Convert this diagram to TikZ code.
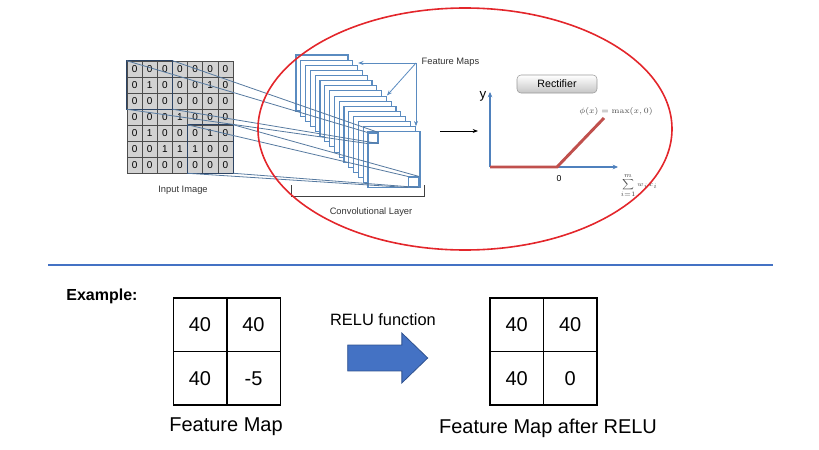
\documentclass[tikz,border=0pt]{standalone}
\usepackage{amsmath}
\usepackage{amssymb}
\usepackage[no-math]{fontspec}
\setmainfont{Liberation Sans}
\usepackage{xcolor}
\usepackage{tikz}
\usetikzlibrary{arrows.meta,shapes.arrows}

\definecolor{ellred}{HTML}{E3262B}
\definecolor{sepblue}{HTML}{4472C4}
\definecolor{arrowedge}{HTML}{2F528F}
\definecolor{convline}{HTML}{56799F}
\definecolor{fmblue}{HTML}{5A8BC0}
\definecolor{axblue}{HTML}{4F81BD}
\definecolor{relured}{HTML}{C0504D}
\definecolor{cellgray}{HTML}{D2D2D2}
\definecolor{winblue}{HTML}{2C4363}

\tikzset{
  incell/.style={draw=gray!60!black, fill=cellgray, minimum width=11.36pt, minimum height=12pt,
    inner sep=0pt, font=\fontsize{7.5}{8}\selectfont},
  fmap/.style={draw=fmblue, fill=white, line width=0.8pt, minimum width=39pt, minimum height=42pt, inner sep=0pt},
  patch/.style={draw=fmblue, fill=white, line width=0.8pt, minimum size=7.5pt, inner sep=0pt},
  bigcell/.style={draw, line width=1pt, minimum size=40pt, inner sep=0pt, font=\fontsize{15}{18}\selectfont},
  smalltext/.style={font=\fontsize{7}{8}\selectfont, text=black!80},
  bigtext/.style={font=\fontsize{15}{18}\selectfont},
  axis/.style={axblue, line width=1.1pt, -{Stealth[length=4pt,width=3.5pt]}}
}

\begin{document}
\begin{tikzpicture}[x=0.75pt,y=-0.75pt]
\useasboundingbox (0,0) rectangle (819,450);
% input image
\foreach \row [count=\r from 0] in {{0,0,0,0,0,0,0},{0,1,0,0,0,1,0},{0,0,0,0,0,0,0},{0,0,0,1,0,0,0},{0,1,0,0,0,1,0},{0,0,1,1,1,0,0},{0,0,0,0,0,0,0}}
  \foreach \v [count=\c from 0] in \row
    \node[incell] (in-\r-\c) at ({127+15.14*(\c+0.5)},{61+16*(\r+0.5)}) {\v};
\draw[winblue, line width=1pt] (in-0-0.north west) rectangle (in-2-2.south east);
\draw[winblue, line width=1pt] (in-4-4.north west) rectangle (in-6-6.south east);
\node[smalltext] (inlabel) at (183,190) {Input Image};
% feature maps
\foreach \i in {0,...,15}
  \node[fmap] (fm\i) at ({322+4.8*\i},{83+5.13*\i}) {};
\node[patch] (patch1) at (373,138) {};
\node[patch] (patch2) at (413.5,182) {};
\draw[convline, line width=0.6pt] (in-0-0.north west) -- (patch1.north west);
\draw[convline, line width=0.6pt] (in-0-2.north east) -- (patch1.north east);
\draw[convline, line width=0.6pt] (in-2-0.south west) -- (patch1.south west);
\draw[convline, line width=0.6pt] (in-2-2.south east) -- (patch1.south east);
\draw[convline, line width=0.6pt] (in-4-4.north west) -- (patch2.north west);
\draw[convline, line width=0.6pt] (in-4-6.north east) -- (patch2.north east);
\draw[convline, line width=0.6pt] (in-6-4.south west) -- (patch2.south west);
\draw[convline, line width=0.6pt] (in-6-6.south east) -- (patch2.south east);
\node[smalltext, anchor=west] (fmlabel) at (417,62) {Feature Maps};
\coordinate (fmsrc) at (416,63);
\draw[fmblue, line width=0.6pt, -{Stealth[length=4pt,width=3pt]}] (fmsrc) -- (fm2.north east |- fmsrc);
\draw[fmblue, line width=0.6pt, -{Stealth[length=4pt,width=3pt]}] (fmsrc) -- (fm8.north east);
\draw[fmblue, line width=0.6pt, -{Stealth[length=4pt,width=3pt]}] (fmsrc) -- (fmsrc |- fm14.north east);
\draw[black!75, line width=0.7pt] (291,185) -- (291,196) -- (424,196) -- (424,185);
\node[smalltext] (convlabel) at (371,212) {Convolutional Layer};
\coordinate (mapout) at (440,131);
\coordinate (plotin) at (478,131);
\draw[line width=0.6pt, -{Stealth[length=4pt,width=3pt]}] (mapout) -- (plotin);
% rectifier
\node[draw=gray!80, rounded corners=3pt, top color=white, bottom color=gray!45, minimum width=60pt,
  minimum height=13.5pt, font=\fontsize{8}{9}\selectfont] (rect) at (557,84) {Rectifier};
\coordinate (orig) at (490,167);
\coordinate (ytip) at (490,92);
\coordinate (xtip) at (618,167);
\coordinate (kink) at (557,167);
\coordinate (reluend) at (604,118);
\draw[axis] (orig) -- (ytip);
\draw[axis] (orig) -- (xtip);
\draw[relured, line width=2.2pt] (orig) -- (kink) -- (reluend);
\node[font=\fontsize{10}{11}\selectfont] (ylabel) at (483,96) {y};
\node[font=\fontsize{6.5}{7}\selectfont] (zero) at (559,179) {0};
\node[font=\fontsize{6}{7}\selectfont, text=black!70] (phi) at (616,111) {$\phi(x)=\max(x,0)$};
\node[font=\fontsize{5.5}{6}\selectfont, text=black!70, anchor=north west, inner sep=1pt] (sum) at (619,172) {$\displaystyle\sum_{i=1}^{m} w_ix_i$};
\draw[ellred, line width=1.2pt] (465,129) ellipse [x radius=207, y radius=121];
% separator
\draw[sepblue, line width=2pt] (48,265) -- (773,265);
% example
\node[font=\fontsize{12}{14}\selectfont\bfseries] (example) at (102,296) {Example:};
\foreach \v/\cx/\cy in {40/200/324.75, 40/253.5/324.75, 40/200/378.25, -5/253.5/378.25}
  \node[bigcell] at (\cx,\cy) {\v};
\foreach \v/\cx/\cy in {40/516.75/324.75, 40/570.25/324.75, 40/516.75/378.25, 0/570.25/378.25}
  \node[bigcell] at (\cx,\cy) {\v};
\node[bigtext] (fmcap) at (226,427) {Feature Map};
\node[bigtext] (aftercap) at (548,428) {Feature Map after RELU};
\node[font=\fontsize{12.3}{14}\selectfont] (relulabel) at (383,320) {RELU function};
\node[single arrow, fill=sepblue, draw=arrowedge, line width=0.6pt, minimum height=60pt,
  minimum width=36.75pt, inner sep=9.4pt, single arrow head extend=9pt, single arrow tip angle=88] (reluarrow) at (381,358) {};
\end{tikzpicture}
\end{document}
